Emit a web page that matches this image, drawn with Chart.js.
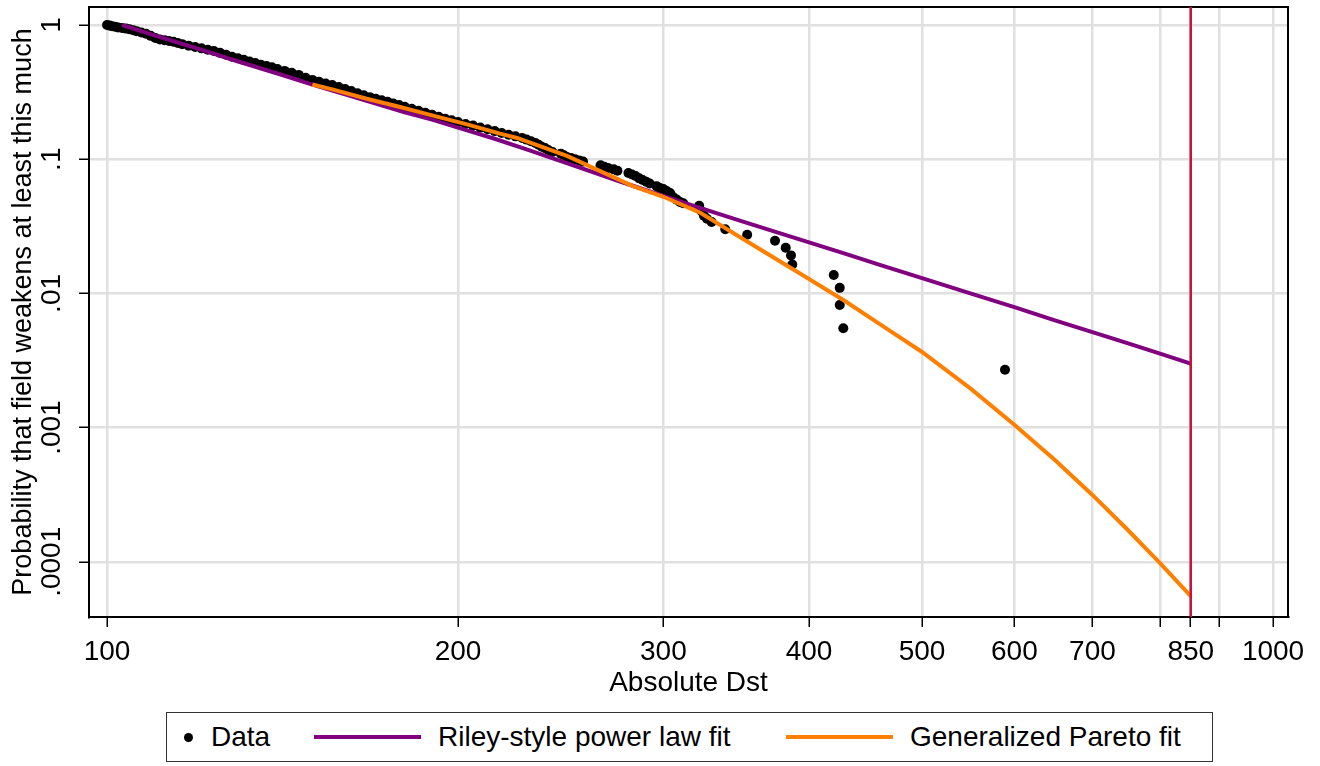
<!DOCTYPE html>
<html lang="en">
<head>
<meta charset="UTF-8">
<title>Probability that field weakens at least this much</title>
<script src="https://cdn.jsdelivr.net/npm/chart.js"></script>
<style>
    body { margin: 0; background: #fff; font-family: "Liberation Sans", Arial, sans-serif; }
    #wrap { position: relative; width: 1320px; height: 766px; }
    #chart { position: absolute; left: 0; top: 0; }
    #legend { position: absolute; left: 166px; top: 712px; width: 1047px; height: 50px; border: 1px solid #333; box-sizing: border-box; font-size: 28px; color: #000; }
    .item { position: absolute; top: 0; height: 100%; display: flex; align-items: center; white-space: nowrap; }
    .dot { width: 9px; height: 9px; border-radius: 50%; margin-right: 18px; }
    .bar { width: 107px; height: 4px; margin-right: 17px; }
</style>
</head>
<body>
<div id="wrap">
    <canvas id="chart" width="1320" height="700"></canvas>
    <div id="legend"></div>
</div>
<script>
// x tick marks (800 and 900 get a tick and grid line but no label)
const xTicks = [100, 200, 300, 400, 500, 600, 700, 800, 850, 900, 1000];
const xTickLabels = ['100', '200', '300', '400', '500', '600', '700', '', '850', '', '1000'];
const yTicks = [0.0001, 0.001, 0.01, 0.1, 1];
const yTickLabels = ['.0001', '.001', '.01', '.1', '1'];

const xMin = 96.5, xMax = 1030;
const yMin = 0.0000388, yMax = 1.362;
const cutoffDst = 850;

// empirical tail: |Dst| and share of storms at least that strong
const dataDst = [
    100, 100.5, 101, 101.6, 102.2, 103, 103.8, 104.5, 105.3, 106, 107, 108, 109, 110, 111, 112, 113, 114, 115, 116,
    117.5, 119, 120.5, 122, 123.5, 125, 126.5, 128, 129.5, 131, 132.5, 134, 135.5, 137, 138.5, 140, 142, 144, 146, 148, 150,
    152, 154, 156, 158, 160, 162, 164, 166, 168, 170, 172, 174, 176, 178, 180, 182.5, 185, 187.5, 190, 192.5,
    195, 197.5, 200, 203, 206, 209, 212, 215, 218, 221, 224, 227,
    229, 231, 233, 234.5, 236, 237.5, 239, 241, 245, 246.5, 248, 250, 252, 254, 256, 265, 267, 269, 272, 274,
    280, 282, 284, 286, 288, 290, 292, 296, 298, 300, 302, 304, 306, 308, 310, 312, 322, 323.5, 325, 327, 330,
    339, 354, 374, 382, 386, 387, 420, 425, 425, 428, 589
];
const dataProb = [
    1.0, 0.99, 0.98, 0.97, 0.96, 0.95, 0.94, 0.93, 0.915, 0.90, 0.88, 0.86, 0.83, 0.80, 0.78, 0.77, 0.76, 0.75, 0.735, 0.72,
    0.70, 0.685, 0.67, 0.655, 0.64, 0.62, 0.60, 0.58, 0.565, 0.55, 0.535, 0.52, 0.505, 0.495, 0.485, 0.47, 0.455, 0.44, 0.425, 0.405, 0.39,
    0.378, 0.367, 0.357, 0.345, 0.333, 0.322, 0.31, 0.30, 0.29, 0.282, 0.275, 0.268, 0.26, 0.253, 0.246, 0.238, 0.23, 0.222, 0.214, 0.207,
    0.2, 0.195, 0.189, 0.183, 0.178, 0.172, 0.167, 0.162, 0.157, 0.152, 0.148, 0.144,
    0.140, 0.136, 0.132, 0.128, 0.124, 0.121, 0.117, 0.113, 0.110, 0.107, 0.104, 0.102, 0.1, 0.098, 0.096, 0.090, 0.088, 0.086, 0.084, 0.082,
    0.079, 0.077, 0.075, 0.072, 0.070, 0.068, 0.066, 0.063, 0.061, 0.060, 0.058, 0.056, 0.052, 0.050, 0.048, 0.047, 0.045, 0.041, 0.038, 0.036, 0.034,
    0.0301, 0.0274, 0.0247, 0.0219, 0.0192, 0.0164, 0.0137, 0.011, 0.0082, 0.0055, 0.0027
];

// Riley-style power law fit
const rileyDst = [103, 110, 120, 130, 140, 150, 160, 170, 180, 190, 200, 215, 230, 250, 275, 300, 325, 350, 375, 400, 430, 460, 500, 550, 600, 650, 700, 750, 800, 850];
const rileyProb = [1.0, 0.834, 0.662, 0.53, 0.435, 0.36, 0.305, 0.26, 0.224, 0.197, 0.172, 0.142, 0.117, 0.091, 0.0685, 0.0532, 0.0425, 0.0346, 0.0286, 0.024, 0.0197, 0.0163, 0.013, 0.01, 0.0079, 0.0063, 0.00514, 0.00426, 0.00356, 0.003];

// Generalized Pareto fit
const paretoDst = [150, 156.3, 167, 178.4, 190, 203.6, 217.3, 224.7, 248, 282.5, 300, 322.5, 350, 400, 430, 460, 500, 550, 600, 650, 700, 750, 800, 850];
const paretoProb = [0.36, 0.33, 0.282, 0.245, 0.212, 0.182, 0.155, 0.144, 0.106, 0.063, 0.0525, 0.04, 0.0259, 0.0128, 0.0087, 0.0059, 0.00366, 0.00196, 0.00105, 0.000573, 0.000315, 0.000174, 0.0000978, 0.0000556];

function pairs(xs, ys) {
    return xs.map((x, i) => ({ x: x, y: ys[i] }));
}

Chart.defaults.font.family = '"Liberation Sans", Arial, sans-serif';
Chart.defaults.font.size = 28;
Chart.defaults.color = '#000';

// frame round the plot region
const frame = {
    id: 'frame',
    beforeDatasetsDraw(chart) {
        const a = chart.chartArea;
        const ctx = chart.ctx;
        ctx.save();
        ctx.strokeStyle = '#000';
        ctx.lineWidth = 2;
        ctx.strokeRect(a.left, a.top, a.right - a.left, a.bottom - a.top);
        ctx.restore();
    }
};

const chart = new Chart(document.getElementById('chart'), {
    type: 'scatter',
    data: {
        datasets: [
            { label: 'Data', data: pairs(dataDst, dataProb), backgroundColor: '#000', borderWidth: 0, pointRadius: 5, order: 4 },
            { label: 'Riley-style power law fit', data: pairs(rileyDst, rileyProb), showLine: true, borderColor: '#800080', borderWidth: 4, pointRadius: 0, order: 3 },
            { label: 'Generalized Pareto fit', data: pairs(paretoDst, paretoProb), showLine: true, borderColor: '#ff8000', borderWidth: 4, pointRadius: 0, order: 2 },
            { label: '', data: [{ x: cutoffDst, y: yMin }, { x: cutoffDst, y: yMax }], showLine: true, borderColor: '#c8103c', borderWidth: 2.5, pointRadius: 0, order: 1 }
        ]
    },
    options: {
        responsive: false,
        animation: false,
        layout: { padding: { top: 7, right: 32, left: 0, bottom: 0 } },
        plugins: { legend: { display: false }, tooltip: { enabled: false } },
        scales: {
            x: {
                type: 'logarithmic',
                min: xMin,
                max: xMax,
                afterBuildTicks: s => { s.ticks = xTicks.map(v => ({ value: v })); },
                afterFit: s => { s.height = 83; },
                ticks: { autoSkip: false, minRotation: 0, maxRotation: 0, padding: 8, callback: (v, i) => xTickLabels[i] },
                grid: { color: '#e0e0e0', lineWidth: 2.5, tickColor: '#000', tickLength: 10, tickWidth: 1.5 },
                border: { color: '#000', width: 2 },
                title: { display: true, text: 'Absolute Dst', padding: { top: 0, bottom: 0 } }
            },
            y: {
                type: 'logarithmic',
                min: yMin,
                max: yMax,
                afterBuildTicks: s => { s.ticks = yTicks.map(v => ({ value: v })); },
                afterFit: s => { s.width = 89; s.paddingTop = 0; s.paddingBottom = 0; },
                ticks: { autoSkip: false, minRotation: 90, maxRotation: 90, crossAlign: 'center', padding: -8, callback: (v, i) => yTickLabels[i] },
                grid: { color: '#e0e0e0', lineWidth: 2.5, tickColor: '#000', tickLength: 10, tickWidth: 1.5 },
                border: { color: '#000', width: 2 },
                title: { display: true, text: 'Probability that field weakens at least this much', font: { size: 27 }, padding: { top: 7, bottom: 0 } }
            }
        }
    },
    plugins: [frame]
});

// legend in a framed box under the plot, built from the chart's datasets
const legendLeft = [17, 147, 619];
const legendBox = document.getElementById('legend');
chart.data.datasets.filter(d => d.label).forEach((d, i) => {
    const item = document.createElement('div');
    item.className = 'item';
    item.style.left = legendLeft[i] + 'px';
    const sw = document.createElement('span');
    if (d.showLine) {
        sw.className = 'bar';
        sw.style.background = d.borderColor;
    } else {
        sw.className = 'dot';
        sw.style.background = d.backgroundColor;
    }
    item.appendChild(sw);
    item.appendChild(document.createTextNode(d.label));
    legendBox.appendChild(item);
});
</script>
</body>
</html>
